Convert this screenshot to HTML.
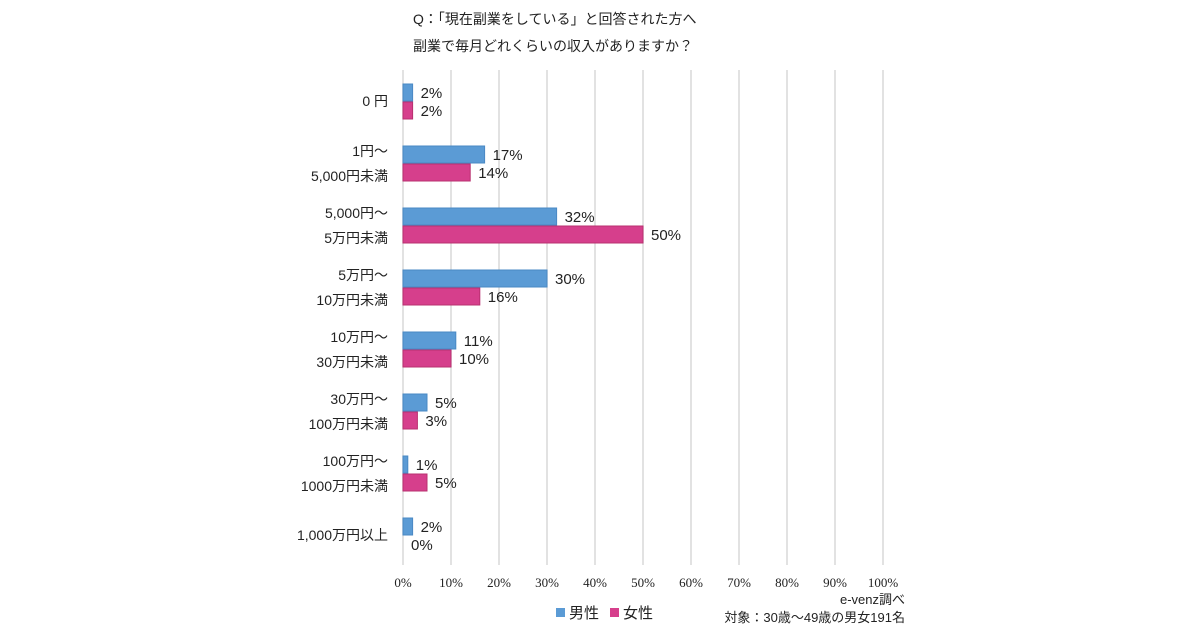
<!DOCTYPE html>
<html><head><meta charset="utf-8"><style>
body{margin:0;background:#fff;}
svg text{font-family:"Liberation Sans","Noto Sans CJK JP",sans-serif;fill:#222;}
</style></head><body>
<svg width="1200" height="630" viewBox="0 0 1200 630">
<text x="413" y="24" font-size="14">Q：「現在副業をしている」と回答された方へ</text>
<text x="413" y="51" font-size="14">副業で毎月どれくらいの収入がありますか？</text>
<g id="grid"></g><g id="bars"></g><g id="labels"></g>
<text x="905" y="604" font-size="13" text-anchor="end">e-venz調べ</text>
<text x="905" y="622" font-size="13" text-anchor="end">対象：30歳～49歳の男女191名</text>
<g>
<rect x="556" y="608" width="9" height="9" fill="#5b9bd5"/>
<text x="569" y="618" font-size="15">男性</text>
<rect x="610" y="608" width="9" height="9" fill="#d63f8c"/>
<text x="623" y="618" font-size="15">女性</text>
</g>
</svg>
<script>
const categories=[["0 円"],["1円～","5,000円未満"],["5,000円～","5万円未満"],["5万円～","10万円未満"],["10万円～","30万円未満"],["30万円～","100万円未満"],["100万円～","1000万円未満"],["1,000万円以上"]];
const male=[2,17,32,30,11,5,1,2];
const female=[2,14,50,16,10,3,5,0];
const ticks=[0,10,20,30,40,50,60,70,80,90,100];
const NS="http://www.w3.org/2000/svg";
const x0=403,pxPer=4.8,yTop=70,yBot=565,rowH=62,firstC=101;
const X=v=>x0+v*pxPer, Yc=i=>firstC+i*rowH;
function mk(t,a,p){const e=document.createElementNS(NS,t);for(const k in a)e.setAttribute(k,a[k]);p.appendChild(e);return e;}
const grid=document.getElementById('grid'),bars=document.getElementById('bars'),lab=document.getElementById('labels');
ticks.forEach(t=>{
 const l=mk('line',{x1:X(t),x2:X(t),y1:yTop,y2:yBot,stroke:'#d9d9d9','stroke-width':1.5},grid);
 
 
 const tx=mk('text',{x:X(t),y:587,'font-size':13,'text-anchor':'middle',style:'font-family:"Liberation Serif",serif'},grid);tx.textContent=t+'%';
 
 
});
categories.forEach((c,i)=>{
 const cy=Yc(i);
 c.forEach((s,j)=>{
  const y=c.length===1?cy+5:cy-12+j*25+5;
  const t=mk('text',{x:388,y:y,'font-size':14,'text-anchor':'end'},lab);t.textContent=s;
  
  
 });
 [[male[i],'#5b9bd5','#4a89c4',cy-17,'male'],[female[i],'#d63f8c','#b8306f',cy+1,'female']].forEach(([v,f,s,y,n])=>{
  if(v>0){const r=mk('rect',{x:x0,y:y,width:X(v)-x0,height:17,fill:f,stroke:s,'stroke-width':1},bars);
  
  }
  const t=mk('text',{x:X(v)+8,y:y+14,'font-size':15},lab);t.textContent=v+'%';
  
  
 });
});
</script>
</body></html>
